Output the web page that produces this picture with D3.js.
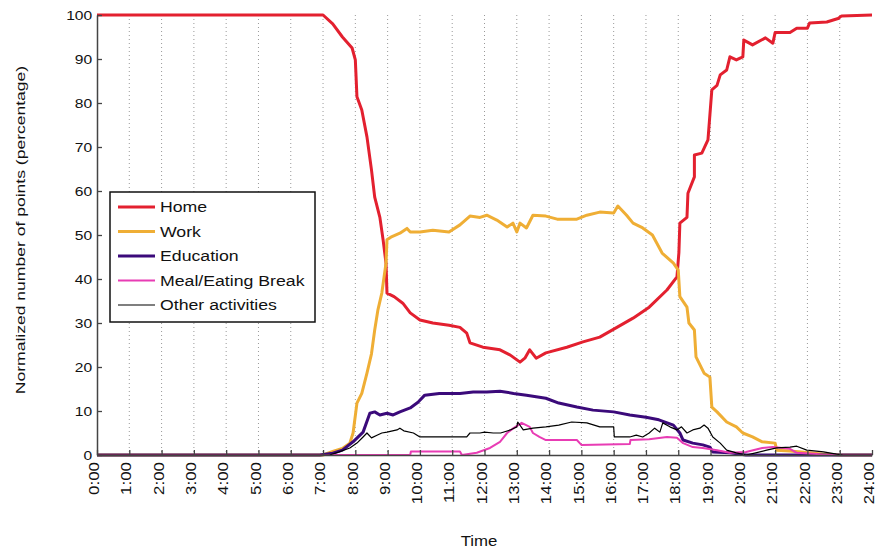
<!DOCTYPE html>
<html>
<head>
<meta charset="utf-8">
<script src="https://cdn.jsdelivr.net/npm/d3@7"></script>
<style>
  body { margin: 0; background: #fff; }
  svg { font-family: "Liberation Sans", Arial, sans-serif; }
  .grid line { stroke: #999; stroke-dasharray: 1,3; stroke-width: 1; }
</style>
</head>
<body>
<svg width="877" height="551"></svg>
<script>
// hours (0..24) and percent values
var homeT = [0, 7.0, 7.3, 7.6, 7.9, 8.0, 8.05, 8.2, 8.36, 8.5, 8.6, 8.76, 8.86, 8.95, 8.98, 9.2, 9.47, 9.7, 10.0, 10.4, 10.9, 11.24, 11.45, 11.55, 11.95, 12.48, 12.8, 13.1, 13.25, 13.4, 13.6, 13.9, 14.55, 15.05, 15.57, 16.1, 16.6, 17.1, 17.65, 17.96, 18.02, 18.05, 18.27, 18.3, 18.5, 18.5, 18.73, 18.92, 19.04, 19.2, 19.3, 19.5, 19.6, 19.8, 20.0, 20.03, 20.3, 20.7, 20.93, 21.0, 21.46, 21.67, 22.0, 22.07, 22.6, 22.95, 23.06, 24];
var homeV = [100, 100, 98, 95, 92.5, 89.8, 81.4, 78.4, 72.3, 64.8, 58.6, 54, 48.9, 43.6, 36.8, 36, 34.5, 32.3, 30.7, 30, 29.5, 29, 27.7, 25.5, 24.5, 23.9, 22.7, 21.1, 22, 23.9, 22, 23.2, 24.5, 25.7, 26.8, 29, 31.1, 33.6, 37.5, 40.5, 46, 52.7, 54, 59.5, 63.2, 68.2, 68.6, 71.6, 83, 84, 86.4, 87.5, 90.5, 89.8, 90.5, 94.3, 93.2, 94.8, 93.6, 96, 96, 97, 97, 98.2, 98.4, 99.2, 99.8, 100];

var workT = [0, 7.0, 7.3, 7.6, 7.83, 7.93, 8.05, 8.2, 8.36, 8.5, 8.6, 8.7, 8.82, 8.95, 8.98, 9.1, 9.38, 9.6, 9.7, 10.0, 10.4, 10.9, 11.24, 11.55, 11.86, 12.07, 12.38, 12.7, 12.88, 13.0, 13.1, 13.3, 13.5, 13.9, 14.25, 14.86, 15.17, 15.57, 16.0, 16.13, 16.4, 16.6, 16.9, 17.2, 17.5, 17.85, 18.0, 18.05, 18.27, 18.33, 18.5, 18.55, 18.8, 18.98, 19.04, 19.2, 19.5, 19.8, 20.0, 20.3, 20.6, 21.0, 21.05, 21.46, 22.07, 22.5, 23.0, 24];
var workV = [0, 0, 0.8, 1.5, 2.7, 5, 11.8, 14, 18.6, 23, 28.4, 33, 36.8, 43.6, 48.9, 49.5, 50.4, 51.5, 50.7, 50.7, 51.1, 50.7, 52.3, 54.3, 54, 54.5, 53.4, 51.8, 52.7, 50.7, 52.7, 51.6, 54.5, 54.3, 53.6, 53.6, 54.5, 55.2, 55, 56.6, 54.5, 52.7, 51.6, 50, 45.9, 43.6, 42, 36, 33.6, 30, 28.4, 22.3, 18.6, 17.7, 10.9, 9.8, 7.5, 6.4, 5, 4.1, 3, 2.7, 1.1, 0.9, 0.5, 0.2, 0, 0];

var eduT = [0, 6.9, 7.3, 7.6, 7.93, 8.24, 8.45, 8.6, 8.76, 8.98, 9.17, 9.38, 9.7, 9.94, 10.15, 10.6, 11.24, 11.65, 12.07, 12.48, 12.9, 13.3, 13.9, 14.3, 14.86, 15.36, 16.0, 16.5, 17.0, 17.4, 17.85, 18.05, 18.15, 18.45, 18.76, 18.98, 19.07, 19.6, 20.1, 24];
var eduV = [0, 0, 0.4, 1.1, 3, 5.2, 9.5, 9.8, 9.1, 9.5, 9.1, 9.8, 10.7, 12, 13.6, 14, 14, 14.3, 14.3, 14.5, 14, 13.6, 12.9, 11.8, 10.9, 10.2, 9.8, 9.1, 8.6, 8, 6.8, 5, 3.4, 2.7, 2.3, 1.8, 0.7, 0.5, 0, 0];

var mealT = [0, 9.7, 9.72, 11.24, 11.3, 11.76, 12.17, 12.48, 12.7, 12.9, 13.15, 13.4, 13.5, 13.7, 13.9, 14.86, 15.0, 16.5, 16.52, 17.1, 17.65, 17.96, 18.15, 18.45, 18.76, 19.2, 19.6, 20.1, 20.6, 20.93, 21.46, 21.67, 22.3, 22.5, 24];
var mealV = [0, 0, 0.8, 0.8, 0, 0.5, 1.6, 3, 5, 6.1, 7.3, 6.4, 5, 4.1, 3.4, 3.4, 2.3, 2.5, 3.4, 3.6, 4.1, 3.9, 2.7, 1.8, 1.6, 1.1, 0.5, 0.7, 1.6, 1.8, 1.4, 0.5, 0.2, 0, 0];

var otherT = [0, 7.2, 7.5, 7.83, 8.05, 8.24, 8.36, 8.5, 8.67, 8.82, 8.98, 9.29, 9.38, 9.5, 9.8, 10.0, 10.4, 10.9, 11.45, 11.55, 11.86, 12.0, 12.27, 12.5, 12.8, 13.0, 13.03, 13.2, 13.5, 13.9, 14.3, 14.7, 15.17, 15.57, 16.0, 16.02, 16.5, 16.7, 16.9, 17.1, 17.27, 17.43, 17.52, 17.74, 17.96, 18.1, 18.27, 18.45, 18.67, 18.8, 18.92, 19.07, 19.3, 19.5, 19.8, 20.1, 20.4, 20.74, 21.05, 21.46, 21.67, 21.98, 22.5, 22.9, 23.1, 24];
var otherV = [0, 0, 0.7, 1.6, 2.7, 4.1, 5, 3.9, 4.5, 5, 5.2, 5.7, 6.1, 5.5, 5, 4.1, 4.1, 4.1, 4.1, 5, 5, 5.2, 5, 5, 5.7, 6.4, 7.5, 5.7, 6.1, 6.4, 6.8, 7.5, 7.3, 6.4, 6.4, 4.1, 4.1, 4.5, 4.1, 5, 6.1, 5.2, 7.3, 6.4, 5.7, 6.4, 5, 5.7, 6.1, 6.8, 6.1, 4.1, 2.7, 1.1, 0.5, 0, 0.5, 1.1, 1.6, 1.8, 2, 1.1, 0.7, 0.2, 0, 0];

var hourTicks = d3.range(0, 25);
var yTicks = d3.range(0, 101, 10);

var series = [
  {name: "Home", t: homeT, v: homeV, color: "#e3202f", width: 3},
  {name: "Work", t: workT, v: workV, color: "#efae35", width: 3},
  {name: "Education", t: eduT, v: eduV, color: "#3b0a7a", width: 3},
  {name: "Meal/Eating Break", t: mealT, v: mealV, color: "#e83cb4", width: 2},
  {name: "Other activities", t: otherT, v: otherV, color: "#000", width: 1.2}
];

var stretch = 1.2; // text in the picture is drawn wide

var svg = d3.select("svg");
var x = d3.scaleLinear().domain([0, 24]).range([97, 872]);
var y = d3.scaleLinear().domain([0, 100]).range([455, 15]);

// dotted vertical grid
svg.append("g").attr("class", "grid")
  .selectAll("line").data(hourTicks.slice(1, 24)).enter().append("line")
  .attr("x1", d => x(d)).attr("x2", d => x(d))
  .attr("y1", y(100)).attr("y2", y(0));

// lines
var line = d3.line().x(d => x(d[0])).y(d => y(d[1]));
series.forEach(function(s) {
  var pts = s.t.map((t, i) => [t, s.v[i]]);
  svg.append("path").datum(pts)
    .attr("d", line)
    .attr("fill", "none")
    .attr("stroke", s.color)
    .attr("stroke-width", s.width)
    .attr("stroke-linejoin", "round");
});

// axes (ticks inward)
var xAxis = svg.append("g").attr("transform", "translate(0," + y(0) + ")")
  .call(d3.axisBottom(x).tickValues(hourTicks).tickSizeInner(-5).tickSizeOuter(0)
    .tickFormat(d => d + ":00"));
xAxis.select(".domain").attr("stroke", "#444").attr("stroke-width", 1.5);
xAxis.selectAll(".tick line").attr("stroke", "#444").attr("stroke-width", 1.3);
xAxis.selectAll("text")
  .attr("font-size", 14).attr("fill", "#111")
  .attr("transform", "rotate(-90) scale(" + stretch + ",1)")
  .attr("text-anchor", "end")
  .attr("x", -6).attr("y", 0).attr("dy", "0.12em");

var yAxis = svg.append("g").attr("transform", "translate(" + x(0) + ",0)")
  .call(d3.axisLeft(y).tickValues(yTicks).tickSizeInner(-5).tickSizeOuter(0));
yAxis.select(".domain").attr("stroke", "#444").attr("stroke-width", 1.5);
yAxis.selectAll(".tick line").attr("stroke", "#444").attr("stroke-width", 1.3);
yAxis.selectAll("text").attr("font-size", 13).attr("fill", "#111")
  .attr("x", -4).attr("transform", "scale(" + stretch + ",1)");

// axis titles
svg.append("text").attr("transform", "translate(479,546) scale(" + stretch + ",1)")
  .attr("text-anchor", "middle").attr("font-size", 14).attr("fill", "#111").text("Time");
svg.append("text").attr("transform", "translate(25,230) rotate(-90) scale(1.3,1)")
  .attr("text-anchor", "middle").attr("font-size", 13.5).attr("fill", "#111")
  .text("Normalized number of points (percentage)");

// legend
var lg = svg.append("g");
lg.append("rect").attr("x", 110).attr("y", 192).attr("width", 205).attr("height", 130)
  .attr("fill", "#fff").attr("stroke", "#111").attr("stroke-width", 1.5);
series.forEach(function(s, i) {
  var ly = 207 + i * 24.5;
  lg.append("line").attr("x1", 118).attr("x2", 155).attr("y1", ly).attr("y2", ly)
    .attr("stroke", s.color).attr("stroke-width", s.width);
  lg.append("text").attr("transform", "translate(160," + ly + ") scale(1.18,1)")
    .attr("dy", "0.35em").attr("font-size", 15).attr("fill", "#111").text(s.name);
});
</script>
</body>
</html>
